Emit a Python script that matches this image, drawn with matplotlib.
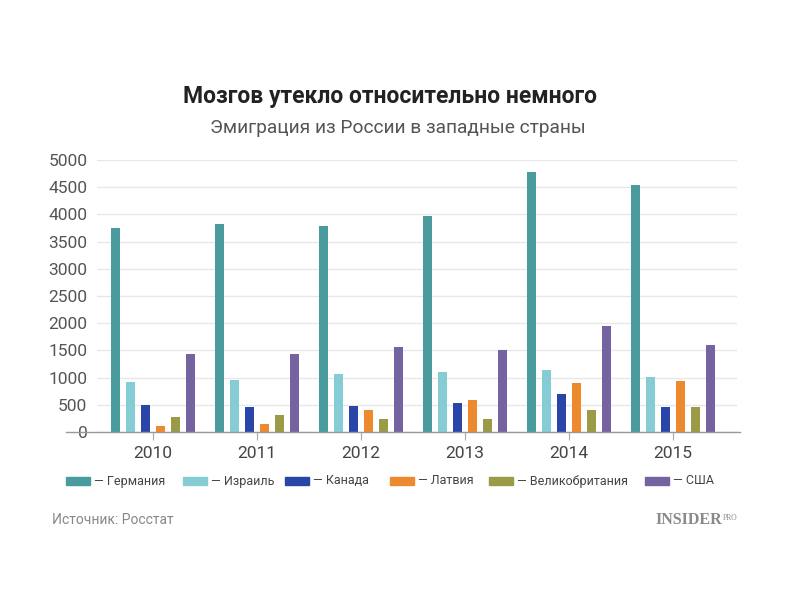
import numpy as np
import matplotlib.pyplot as plt
from matplotlib.lines import Line2D
from matplotlib.patches import Rectangle

plt.rcParams['font.family'] = ['Roboto', 'DejaVu Sans']

# данные (оценка по картинке)
years = ['2010', '2011', '2012', '2013', '2014', '2015']
countries = ['Германия', 'Израиль', 'Канада', 'Латвия', 'Великобритания', 'США']
germany = [3750, 3830, 3780, 3970, 4780, 4545]
israel = [910, 950, 1060, 1095, 1145, 1010]
canada = [495, 460, 478, 533, 695, 453]
latvia = [118, 143, 408, 583, 893, 935]
uk = [267, 304, 230, 248, 397, 453]
usa = [1425, 1425, 1560, 1512, 1945, 1605]
colors = ['#4a9b9d', '#86ccd4', '#2a45a8', '#ee8a2e', '#9b9b47', '#7562a0']

series = [germany, israel, canada, latvia, uk, usa]

fig = plt.figure(figsize=(8, 6), dpi=100)
ax = fig.add_axes([97 / 800, 1 - 432 / 600, 640 / 800, 272 / 600])

x = np.arange(len(years))
step = 0.145
width = 0.09
for i, (vals, c) in enumerate(zip(series, colors)):
    ax.bar(x + (i - 2.5) * step, vals, width=width, color=c, zorder=3)

ax.set_xlim(-0.538, 5.615)
ax.set_ylim(0, 5000)
ax.set_yticks(np.arange(0, 5001, 500))
ax.yaxis.grid(True, color='#e8e8e8', linewidth=1, zorder=0)
for s in ax.spines.values():
    s.set_visible(False)
ax.tick_params(axis='y', length=0, pad=7, labelsize=12.5, labelcolor='#555555')
ax.set_xticks(x)
ax.set_xticklabels(years)
ax.tick_params(axis='x', length=6, color='#aaaaaa', labelsize=12.5,
               labelcolor='#444444', pad=4)

# базовая линия
fig.add_artist(Line2D([66 / 800, 740 / 800], [1 - 432 / 600] * 2,
                      color='#999999', linewidth=1))

# заголовки
fig.text(390 / 800, 1 - 97 / 600, 'Мозгов утекло относительно немного',
         ha='center', va='center', fontsize=16.5, fontweight='bold',
         color='#222222')
fig.text(398 / 800, 1 - 128 / 600, 'Эмиграция из России в западные страны',
         ha='center', va='center', fontsize=13.8, color='#555555')

# легенда
leg_x = [66, 183, 285, 390, 489, 645]
for lx, name, c in zip(leg_x, countries, colors):
    fig.add_artist(Rectangle((lx / 800, 1 - 485 / 600), 24 / 800, 8 / 600,
                             color=c, transform=fig.transFigure))
    fig.text((lx + 28) / 800, 1 - 481 / 600, '— ' + name, ha='left',
             va='center', fontsize=9, color='#444444')

# подвал
fig.text(52 / 800, 1 - 520 / 600, 'Источник: Росстат', ha='left',
         va='center', fontsize=10, color='#888888')
fig.text(722 / 800, 1 - 520 / 600, 'INSIDER', ha='right', va='center',
         fontsize=11.5, fontweight='bold', family='Liberation Serif',
         color='#8a8a8a')
fig.text(723 / 800, 1 - 518 / 600, 'PRO', ha='left', va='center',
         fontsize=5.5, family='Liberation Serif', color='#8a8a8a')

fig.savefig('out.png', dpi=100)
